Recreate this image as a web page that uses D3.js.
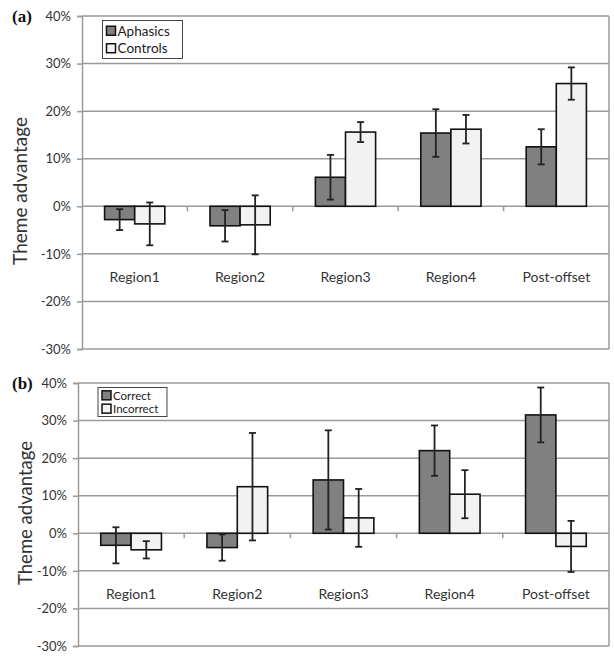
<!DOCTYPE html>
<html><head><meta charset="utf-8">
<script src="https://cdn.jsdelivr.net/npm/d3@7"></script>
<style>body{margin:0;background:#fff}svg{display:block}</style>
</head><body>
<svg id="c" width="614" height="663"></svg>
<script>
const categories = ["Region1","Region2","Region3","Region4","Post-offset"];
const yTicks = [-0.3,-0.2,-0.1,0,0.1,0.2,0.3,0.4];

const seriesA = ["Aphasics","Controls"];
const aphasics      = [-0.028,-0.041,0.061,0.154,0.125];
const aphasicsErr   = [0.022,0.033,0.047,0.050,0.037];
const controls      = [-0.037,-0.039,0.156,0.162,0.258];
const controlsErr   = [0.045,0.062,0.021,0.030,0.034];

const seriesB = ["Correct","Incorrect"];
const correct       = [-0.032,-0.038,0.142,0.220,0.315];
const correctErr    = [0.048,0.035,0.132,0.067,0.073];
const incorrect     = [-0.044,0.124,0.041,0.104,-0.035];
const incorrectErr  = [0.023,0.143,0.077,0.064,0.068];

const colors = ["#808080","#f2f2f2"];
const font = "Lato, 'Open Sans', sans-serif";
const svg = d3.select("#c");
const pct = d => Math.round(d*100) + "%";

function panel(cfg){
  const {left,right,top,bottom,label,series,vals,errs,legend,titleX,titleY,labelY,tickFont,legFont,catFont,titleFont} = cfg;
  const g = svg.append("g");
  const y = d3.scaleLinear().domain([-0.3,0.4]).range([bottom,top]);
  const x0 = d3.scaleBand().domain(categories).range([left,right]).paddingInner(0).paddingOuter(0);
  const x1 = d3.scaleBand().domain(series).range([0,x0.bandwidth()]).paddingOuter(0.75).paddingInner(0);
  g.selectAll("line.grid").data(yTicks).join("line")
    .attr("x1",left).attr("x2",right).attr("y1",d=>y(d)).attr("y2",d=>y(d))
    .attr("stroke","#9a9a9a").attr("stroke-width",1.5);
  g.append("line").attr("x1",right).attr("x2",right).attr("y1",top).attr("y2",bottom)
    .attr("stroke","#9a9a9a").attr("stroke-width",1.5);
  const ax = d3.axisLeft(y).tickValues(yTicks).tickFormat(pct).tickSize(5).tickPadding(6);
  const ag = g.append("g").attr("transform",`translate(${left},0)`).call(ax);
  ag.select(".domain").attr("stroke","#9a9a9a").attr("stroke-width",1.5);
  ag.selectAll(".tick line").attr("stroke","#9a9a9a").attr("stroke-width",1.5);
  ag.selectAll(".tick text").attr("font-family",font).attr("font-size",tickFont).attr("fill","#333");
  g.selectAll("line.ct").data(d3.range(1,categories.length)).join("line")
    .attr("x1",i=>left+i*x0.bandwidth()).attr("x2",i=>left+i*x0.bandwidth())
    .attr("y1",y(0)).attr("y2",y(0)+5).attr("stroke","#9a9a9a").attr("stroke-width",1.5);
  series.forEach((s,si)=>{
    const gs = g.append("g");
    gs.selectAll("rect").data(vals[si]).join("rect")
      .attr("x",(d,i)=>x0(categories[i])+x1(s))
      .attr("width",x1.bandwidth())
      .attr("y",d=>Math.min(y(d),y(0)))
      .attr("height",d=>Math.abs(y(d)-y(0)))
      .attr("fill",colors[si]).attr("stroke","#111").attr("stroke-width",1.6);
  });
  series.forEach((s,si)=>{
    const ge = g.append("g").attr("stroke","#222").attr("stroke-width",1.8);
    vals[si].forEach((v,i)=>{
      const cx = x0(categories[i])+x1(s)+x1.bandwidth()/2;
      const e = errs[si][i];
      ge.append("line").attr("x1",cx).attr("x2",cx).attr("y1",y(v+e)).attr("y2",y(v-e));
      ge.append("line").attr("x1",cx-3.5).attr("x2",cx+3.5).attr("y1",y(v+e)).attr("y2",y(v+e));
      ge.append("line").attr("x1",cx-3.5).attr("x2",cx+3.5).attr("y1",y(v-e)).attr("y2",y(v-e));
    });
  });
  g.selectAll("text.cat").data(categories).join("text")
    .attr("x",d=>x0(d)+x0.bandwidth()/2).attr("y",labelY)
    .attr("text-anchor","middle").attr("dominant-baseline","central")
    .attr("font-family",font).attr("font-size",catFont).attr("fill","#333").text(d=>d);
  g.append("text").attr("transform",`translate(${titleX},${titleY}) rotate(-90)`)
    .attr("text-anchor","middle").attr("dominant-baseline","central")
    .attr("font-family",font).attr("font-size",titleFont).attr("fill","#333").text("Theme advantage");
  g.append("text").attr("x",12).attr("y",top+6).attr("font-family","'Liberation Serif', 'DejaVu Serif', serif")
    .attr("font-weight","bold").attr("font-size",17).attr("fill","#111").text(label);
  const lg = g.append("g");
  lg.append("rect").attr("x",legend.x).attr("y",legend.y).attr("width",legend.w).attr("height",legend.h)
    .attr("fill","#fff").attr("stroke","#444").attr("stroke-width",1);
  series.forEach((s,si)=>{
    const cy = legend.y + legend.h*(si===0?0.27:0.73);
    lg.append("rect").attr("x",legend.x+4).attr("y",cy-4.5).attr("width",9).attr("height",9)
      .attr("fill",colors[si]).attr("stroke","#111").attr("stroke-width",1.5);
    lg.append("text").attr("x",legend.x+15).attr("y",cy).attr("dominant-baseline","central")
      .attr("font-family",font).attr("font-size",legFont).attr("fill","#222").text(s);
  });
}

panel({left:82,right:609,top:16,bottom:349,label:"(a)",series:seriesA,vals:[aphasics,controls],errs:[aphasicsErr,controlsErr],
  legend:{x:102.5,y:20.5,w:80,h:38},titleX:19,titleY:191,labelY:276,tickFont:13,legFont:13.5,catFont:14,titleFont:19});
panel({left:78,right:609,top:383,bottom:646,label:"(b)",series:seriesB,vals:[correct,incorrect],errs:[correctErr,incorrectErr],
  legend:{x:98,y:387.5,w:69,h:29},titleX:25,titleY:513,labelY:593,tickFont:13,legFont:11.5,catFont:14,titleFont:18.5});
</script>
</body></html>
